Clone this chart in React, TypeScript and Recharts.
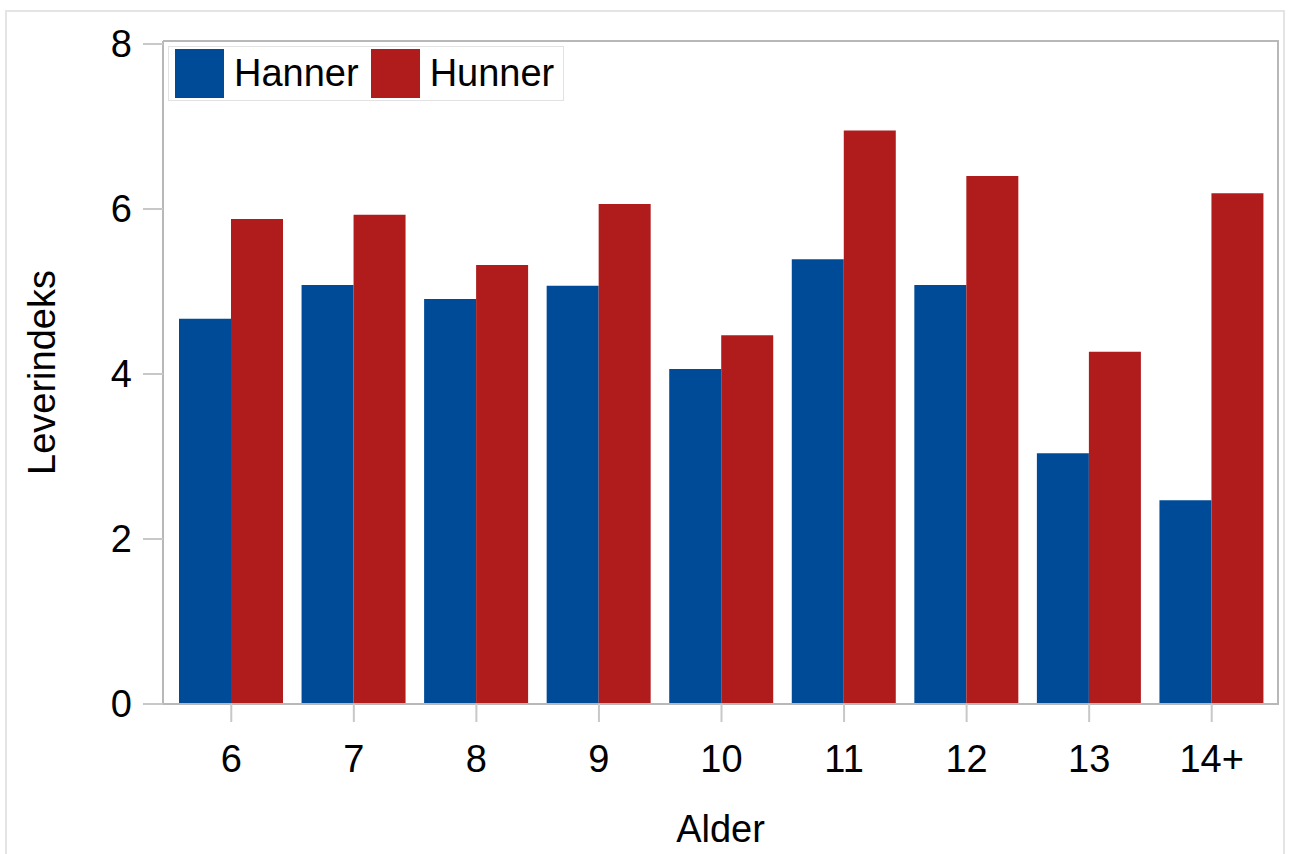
import { BarChart, Bar, XAxis, YAxis, Legend } from "recharts";

const alder = ["6", "7", "8", "9", "10", "11", "12", "13", "14+"];
const hanner = [4.67, 5.08, 4.91, 5.07, 4.06, 5.39, 5.08, 3.04, 2.47];
const hunner = [5.88, 5.93, 5.32, 6.06, 4.47, 6.95, 6.4, 4.27, 6.19];
const yTicks = [0, 2, 4, 6, 8];

const BLA = "#004b98";
const ROD = "#b01c1c";
const FONT = "'Liberation Sans', Arial, sans-serif";

const data = alder.map((a, i) => ({ alder: a, Hanner: hanner[i], Hunner: hunner[i] }));

// legende som i SAS-utdata: boks med firkanter
function Legende({ payload }: any) {
  return (
    <div
      style={{
        display: "flex",
        alignItems: "center",
        border: "1px solid #e2e2e2",
        padding: "2px 9px 2px 6px",
        background: "#fff",
        fontFamily: FONT,
        fontSize: 38,
        color: "#000",
      }}
    >
      {(payload || []).map((p: any, i: number) => (
        <div key={p.value} style={{ display: "flex", alignItems: "center", marginRight: i === 0 ? 12 : 0 }}>
          <span style={{ width: 49, height: 49, background: p.color, marginRight: 10, display: "inline-block" }} />
          <span style={{ lineHeight: "49px" }}>{p.value}</span>
        </div>
      ))}
    </div>
  );
}

export default function App() {
  return (
    <div style={{ position: "absolute", left: 0, top: 0, width: 1289, height: 854, overflow: "hidden", background: "#fff" }}>
      <div
        style={{
          position: "absolute",
          left: 5,
          top: 10,
          width: 1280,
          height: 900,
          border: "2px solid #e4e4e4",
          boxSizing: "border-box",
        }}
      />
      <BarChart
        width={1289}
        height={854}
        data={data}
        margin={{ top: 41, right: 11, bottom: 0, left: 0 }}
        barCategoryGap={9}
        barGap={0}
        style={{ position: "absolute", left: 0, top: 0 }}
      >
        <XAxis
          dataKey="alder"
          height={150}
          padding={{ left: 7, right: 5 }}
          tickSize={18}
          tickMargin={23}
          axisLine={{ stroke: "#b8b8b8", strokeWidth: 2 }}
          tickLine={{ stroke: "#c8c8c8", strokeWidth: 2 }}
          tick={{ fill: "#000", fontSize: 38, fontFamily: FONT }}
          label={{ value: "Alder", position: "insideBottom", offset: 12, fill: "#000", fontSize: 38, fontFamily: FONT }}
        />
        <YAxis
          width={163}
          domain={[0, 8.036]}
          ticks={yTicks}
          tickSize={20}
          tickMargin={11}
          axisLine={{ stroke: "#b8b8b8", strokeWidth: 2 }}
          tickLine={{ stroke: "#c8c8c8", strokeWidth: 2 }}
          tick={{ fill: "#000", fontSize: 38, fontFamily: FONT }}
          label={{
            content: ({ viewBox }: any) => (
              <text
                transform={`translate(${viewBox.x + 55}, ${viewBox.y + viewBox.height / 2}) rotate(-90)`}
                textAnchor="middle"
                fill="#000"
                fontSize={38}
                fontFamily={FONT}
              >
                Leverindeks
              </text>
            ),
          }}
        />
        <Legend
          layout="vertical"
          align="center"
          verticalAlign="middle"
          wrapperStyle={{ left: 168, top: 46, width: "auto" }}
          content={Legende}
        />
        <Bar dataKey="Hanner" fill={BLA} isAnimationActive={false} />
        <Bar dataKey="Hunner" fill={ROD} isAnimationActive={false} />
      </BarChart>
      {/* ramme rundt plottet (topp og hoyre) */}
      <div
        style={{
          position: "absolute",
          left: 163,
          top: 40,
          width: 1116,
          height: 665,
          borderTop: "2px solid #b8b8b8",
          borderRight: "2px solid #b8b8b8",
          boxSizing: "border-box",
          pointerEvents: "none",
        }}
      />
    </div>
  );
}
